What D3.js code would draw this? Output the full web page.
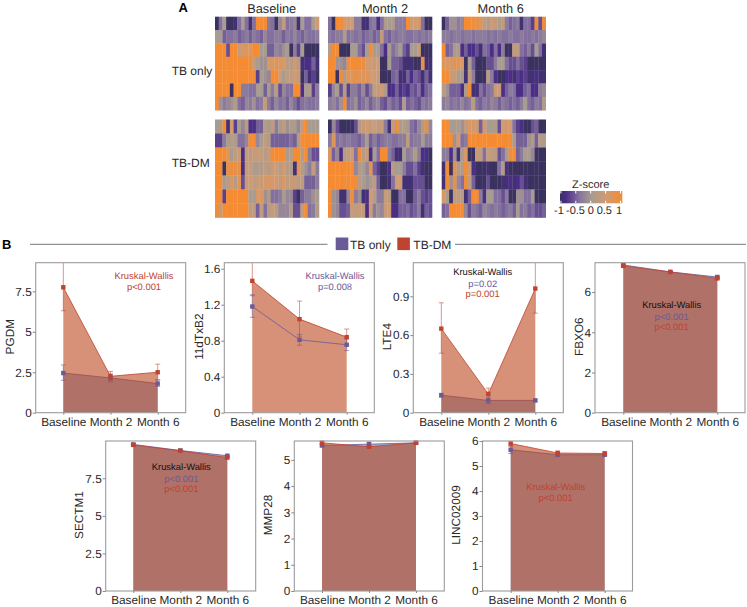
<!DOCTYPE html>
<html><head><meta charset="utf-8">
<script src="https://cdn.jsdelivr.net/npm/d3@7/dist/d3.min.js"></script>
<style>html,body{margin:0;padding:0;background:#fff}svg{display:block}text{font-family:"Liberation Sans",Arial,sans-serif;fill:#2a2a2a;text-rendering:geometricPrecision}</style>
</head><body><svg id="c" width="747" height="607"></svg>
<script>
const months = ["Baseline", "Month 2", "Month 6"];
const groups = ["TB only", "TB-DM"];

const heatTbBase = [
[-1,-.4,0,-1,-1,-.9,-.4,0,-.4,-.9,-.4,1,1,1,-.3,-.4,-1,-.2,.3,-.4,-.3,-.2,-.9,0,-.4,-.4,0,.5],
[0,0,-.5,-.4,-.4,-.3,-.5,-.4,-.3,-.5,-.3,-.4,-.5,-.2,-.4,-.4,-.3,-.3,-.5,-.3,-.4,-.2,-.4,-.5,-.3,-.4,-.4,-.3],
[1,1,1,-.6,1,1,.4,.6,.7,.6,1,1,0,0,-.5,-.5,-.2,-.3,-.1,0,-1,-.3,-.7,0,-1,-1,-1,-1],
[1,1,1,1,1,1,1,1,1,1,.4,0,-.1,-.1,.6,.6,.7,.6,.6,.2,.2,.5,.2,-.9,-.8,-.8,-.5,-.9],
[1,1,1,1,1,1,1,1,1,1,1,-.7,0,-.1,-.2,1,1,.5,0,.3,.3,.5,.4,-1,-.5,-.9,-.7,-1],
[1,1,1,1,-1,1,1,-.3,-.3,-.4,-.4,0,0,-.5,0,-.3,.2,-.6,-.2,-.4,-.4,1,1,-.8,0,.1,-.7,-.3],
[1,-.1,-.3,-.2,-.1,.1,-.4,-.5,-.2,-.3,-.1,-.4,-.3,.3,-.3,-.5,-.2,-.4,-.3,-.5,-.2,-.4,-.6,-.4,-.3,-.4,-.4,-.3]];
const heatTbM2 = [
[-.4,-1,1,1,.5,.5,.5,-.3,-.3,-.9,-.9,-.4,-.3,-.8,-.4,.1,0,.1,-.3,-.3,-.3,1,.5,.5,.6,-.4,-1,-1],
[-.3,-.4,-.3,-.3,.1,-.4,-.3,-.4,-.3,-.5,-.4,-.3,-.5,-.4,.3,-.4,-.5,-.3,-.4,-.3,-.3,-.4,-.4,-.3,-.4,-.3,-.4,-.3],
[.2,1,.9,-1,-1,-1,0,0,-.4,-.6,0,1,0,0,-.4,-.8,0,-.4,-.2,0,-.5,-.7,0,0,.4,-1,-1,-1],
[1,1,-.1,-.1,-.2,.9,1,1,.9,.9,.5,.5,.4,.5,-1,-1,0,-.5,-.5,-.6,-.9,-.9,-.9,-1,-1,.8,-.9,-.9],
[1,1,-1,.9,.1,.7,.7,.8,.7,.7,.7,.5,.5,.4,-1,-1,-1,-.5,-.4,-.9,-.9,-.5,-.8,-.5,-.6,-.9,-.5,-.9],
[-.7,-.2,0,-.6,.1,-.7,-.3,-.3,-.5,-.2,-.6,-.3,.4,.3,.5,.1,-.8,-.8,-.5,-.8,-.7,-.8,-.5,-.6,-.4,-.8,-.5,-.4],
[-.3,-.2,-.4,-.1,1,-.4,-.3,-.1,-.5,-.4,-.2,-.5,-.3,-.2,-.5,-.6,-.3,-.5,-.4,-.6,.1,-.5,-.4,-.5,-.6,-.3,-.4,-.3]];
const heatTbM6 = [
[-1,-.5,-.1,-.1,-.3,-.2,1,1,.9,.8,.7,.3,.1,.5,.3,.1,.3,-.3,-.5,-.4,-.3,-.9,-.4,-.4,-.7,1,-.6,.9],
[-.3,-.3,-.4,-.3,-.3,-.4,-.3,-.3,-.4,-.3,-.3,-.3,-.4,-.3,-.4,-.3,-.4,-.4,-.3,-.4,-.4,-.3,-.4,-.4,-.3,-.4,-.3,-.2],
[1,-.5,-.4,0,.1,-.8,-.5,-.8,-.8,-.6,-.9,-.4,-.5,-.8,-.4,-.8,-.3,-1,-1,.3,.3,-.4,-.5,-.3,-.6,0,-.4,-.9],
[.7,.6,.6,.7,.7,.6,-1,0,-.5,-1,-1,-1,-.6,-.6,-.3,0,0,-.4,-.6,-.6,-.4,-.6,-.7,-1,-1,-1,-1,-1],
[1,1,.4,.4,.1,0,-.9,.3,-.3,-1,-1,-1,.2,-.3,-.8,-1,-1,-.8,-.8,-.9,-.7,-.8,-.7,-.9,-.9,-.8,-.9,-.9],
[.2,-.1,-.5,-.5,-.5,-.8,.1,1,-.9,-.9,-.4,-.6,-.4,-.3,.4,.4,-.8,-.5,-.3,-.4,-.8,-.8,-.5,-.4,-.8,-.8,-.3,-.2],
[-.3,-.2,-.4,-.3,-.4,-.2,-.4,-.3,.2,-.4,-.5,-.3,-.4,-.2,-.3,-.5,-.3,-.4,-.5,-.4,-.5,-.3,0,-.4,-.5,-.3,-.4,.1]];
const heatDmBase = [
[0,0,1,-.9,.5,-.7,0,-.2,.2,-.8,-.8,-.5,-.5,.2,0,.3,-.3,0,.3,-.1,.1,0,-.2,.4,1,0,0,0],
[-.7,-.7,-.3,0,.2,.1,-.4,-.4,-.2,1,1,-.2,0,.3,.1,-.5,-.5,-.5,-.5,-.5,-.4,-.5,.1,1,1,1,1,1],
[1,1,1,.7,0,.3,.4,-.8,.4,.2,.4,.4,.3,.2,.4,1,1,1,1,0,.2,1,1,.2,1,-.3,-.6,-.6],
[1,1,-1,.8,.9,.8,.8,-.8,.4,.4,.1,.1,.1,.3,.2,.4,.5,.2,.5,.2,.1,-.9,.7,.2,-.1,-.3,.3,-.3],
[1,1,0,.2,.6,.2,.7,-.6,.4,.5,.3,.4,.4,.6,.6,.5,.6,.3,.6,.3,.4,.4,.2,.3,-.5,-.5,-.5,-.3],
[1,1,-.7,1,1,1,1,1,1,0,0,.6,.6,-.1,.1,-.4,-.4,-.3,0,-.2,-.2,-.7,-1,-.5,-.3,-.3,-.1,0],
[1,.3,1,1,1,1,1,1,1,.3,.3,-.5,.3,-.4,.2,.4,.2,-.2,-.2,-.2,.1,-.6,-.6,.3,1,-.4,-.3,.1]];
const heatDmM2 = [
[-1,-.2,-.6,-1,-1,-1,-1,-.6,.1,.4,.5,.3,.5,.2,.4,-.3,-.9,.3,1,0,.2,0,-.4,-.5,-.2,.1,.9,-.2],
[-.3,.7,-.4,-.3,-.4,-.3,-.4,-.4,-.5,-.3,0,-.5,-.3,-.5,-.4,-.3,-.3,-.4,-.4,-.3,-.3,.3,-.4,-.3,-.3,0,-.3,-.3],
[.6,-.5,-.2,-.8,.2,.3,.4,-.4,.9,.2,.4,-.8,0,-.4,1,1,-.3,-.5,-.9,-.9,0,-.3,-.2,.1,-.3,-.8,-.8,-1],
[1,1,1,1,1,1,1,-.2,.1,0,-.2,.7,-.5,-.7,-1,-1,-.8,.2,0,0,-.3,-.6,-.6,-.4,-.7,-.9,-1,-1],
[1,1,1,1,.9,1,1,.9,.2,0,-.1,0,.3,-.5,-1,-1,-.9,-.4,.5,.5,-.9,-.9,-.9,-.6,-.6,-.6,-1,-1],
[1,-.1,-.2,-.9,-.9,-.2,1,-.3,-.1,-.9,-.8,.5,.2,-.3,-.3,.4,.2,-1,-1,-.4,-.4,-1,-1,-.5,-.3,-.6,-.7,-.6],
[1,-.1,-.2,-.6,-.6,-.5,.4,.3,.4,.3,-.8,.5,-.3,-.1,-.2,.4,.5,-.8,-.8,-.5,-.5,-.4,-.6,-.5,-.3,-.9,-.5,-.6]];
const heatDmM6 = [
[1,1,0,0,.1,-.1,.3,.6,.6,.4,-.5,.6,0,0,.1,-.6,.5,.6,.5,-.4,-.7,-.8,-1,-1,-.6,-.5,-1,-1],
[1,1,1,-.1,.6,-.4,-.3,1,.9,1,1,1,1,1,1,1,1,1,1,0,-.5,-.5,-.5,-.1,.1,-.5,.2,.1],
[-.3,-.3,-.8,-.1,-.9,.1,.6,-1,-1,.4,.3,-.4,.4,.3,.2,-.6,-.4,0,.9,1,-.5,-.3,0,0,-.2,-1,-1,-1],
[-.9,.9,-1,.8,.1,.1,.9,.4,-.8,-1,-1,-1,-.9,-1,-1,-.4,.1,-.8,-1,-1,-1,-1,-1,-1,-1,-1,-1,-1],
[-.9,.9,-.1,.8,-.2,-.4,.9,.3,-.5,-1,-1,-1,-.6,-1,-1,-1,-.9,-.9,-.8,-.9,-.8,-.6,-.9,-1,-1,-1,-1,-1],
[.6,0,-1,.3,.3,.2,-.9,-.5,1,.9,-.3,-.8,0,0,-.4,-.4,-.6,-.3,-1,-1,-.1,-.1,-.4,-.4,0,-1,-1,-1],
[-.5,-.4,1,1,1,1,-.2,-.6,-.3,-.4,-.5,-.2,-.3,-.4,-.3,-.4,-.5,-.4,-.3,-.5,0,-.4,-.3,-.5,-.4,-.6,-.6,-.5]];

const metabolites = ["PGDM","11dTxB2","LTE4","FBXO6","SECTM1","MMP28","LINC02009"];
const tbOnly = [[2.45,2.15,1.8],[1.18,.81,.755],[.135,.095,.095],[7.35,7.0,6.75],[9.75,9.35,9.0],[5.55,5.6,5.65],[5.65,5.45,5.45]];
const tbDm = [[7.75,2.25,2.5],[1.465,1.04,.84],[.65,.145,.96],[7.3,7.0,6.68],[9.72,9.33,8.88],[5.65,5.5,5.65],[5.9,5.52,5.5]];
const tbLow = [[2.0,1.9,1.62],[1.06,.75,.69],[.12,.07,.085],[7.3,6.97,6.7],[9.7,9.3,8.95],[5.5,5.52,5.62],[5.5,5.4,5.4]];
const tbHigh = [[2.95,2.4,2.0],[1.31,.87,.82],[.15,.12,.105],[7.4,7.03,6.8],[9.8,9.4,9.05],[5.6,5.68,5.68],[5.8,5.5,5.5]];
const dmLow = [[6.3,2.0,2.05],[1.3,.85,.75],[.46,.1,.77],[7.25,6.97,6.62],[9.65,9.28,8.8],[5.6,5.45,5.6],[5.8,5.45,5.42]];
const dmHigh = [[9.4,2.55,3.0],[1.7,1.24,.93],[.85,.19,1.2],[7.35,7.03,6.74],[9.8,9.38,8.95],[5.7,5.55,5.7],[6.0,5.6,5.58]];
const tbFilled = [true,false,true,true,true,true,true];
const yMax = [9.27,1.667,1.16,7.46,9.98,5.72,6];
const yTicks = [[0,2.5,5,7.5],[0,.4,.8,1.2,1.6],[0,.3,.6,.9],[0,2,4,6],[0,2.5,5,7.5],[0,1,2,3,4,5],[0,1,2,3,4,5,6]];
const notes = [
 [["Kruskal-Wallis","dm"],["p<0.001","dm"]],
 [["Kruskal-Wallis","tb"],["p=0.008","tb"]],
 [["Kruskal-Wallis","k"],["p=0.02","tb"],["p=0.001","dm"]],
 [["Kruskal-Wallis","k"],["p<0.001","tb"],["p<0.001","dm"]],
 [["Kruskal-Wallis","k"],["p<0.001","tb"],["p<0.001","dm"]],
 [],
 [["Kruskal-Wallis","dm"],["p<0.001","dm"]]];
const zStops = [-1,-.8,-.4,0,.5,1];
const zColors = ["#3a3060","#4b2f85","#83709e","#a89b90","#d09b72","#f58b30"];
const zTicks = [-1,-.5,0,.5,1];

const TB = "#6a5a98", DM = "#c0432f", TBFILL = "#526eb6", DMFILL = "#bb481e";
const svg = d3.select("#c");
const zColor = d3.scaleLinear().domain(zStops).range(zColors);
const defs = svg.append("defs");
defs.append("filter").attr("id", "soft").attr("x", "-1%").attr("y", "-1%").attr("width", "102%").attr("height", "102%")
  .append("feGaussianBlur").attr("stdDeviation", .6);

/* ---------- Panel A heatmaps ---------- */
function heat(matrix, x0, y0, w, h) {
  const xb = d3.scaleBand().domain(d3.range(matrix[0].length)).range([x0, x0 + w]);
  const yb = d3.scaleBand().domain(d3.range(matrix.length)).range([y0, y0 + h]);
  const g = svg.append("g").attr("filter", "url(#soft)");
  matrix.forEach((row, r) => {
    g.selectAll(null).data(row).join("rect")
      .attr("x", (d, i) => xb(i)).attr("y", yb(r))
      .attr("width", xb.bandwidth() + .3).attr("height", yb.bandwidth() + .3)
      .attr("fill", d => zColor(d));
  });
}
const heatX = [215, 328, 441.7], heatW = 104, titleX = [271.7, 385, 500.7];
[heatTbBase, heatTbM2, heatTbM6].forEach((m, i) => heat(m, heatX[i], 16.7, heatW, 93.5));
[heatDmBase, heatDmM2, heatDmM6].forEach((m, i) => heat(m, heatX[i], 119.5, heatW, 98));
months.forEach((m, i) => svg.append("text").attr("x", titleX[i]).attr("y", 12.5)
  .attr("text-anchor", "middle").attr("font-size", 12.8).text(m));
svg.append("text").attr("x", 171.7).attr("y", 74.5).attr("font-size", 12).text(groups[0]);
svg.append("text").attr("x", 171.7).attr("y", 167).attr("font-size", 12).text(groups[1]);
svg.append("text").attr("x", 178.5).attr("y", 12).attr("font-size", 13).attr("font-weight", "bold").style("fill", "#000").text("A");
svg.append("text").attr("x", 2).attr("y", 249).attr("font-size", 13).attr("font-weight", "bold").style("fill", "#000").text("B");

/* colour bar */
const zx = d3.scaleLinear().domain([-1.03, 1.06]).range([560, 622.3]);
const grad = defs.append("linearGradient").attr("id", "zg");
zStops.forEach((s, i) => grad.append("stop").attr("offset", (s + 1) / 2).attr("stop-color", zColors[i]));
svg.append("rect").attr("x", 560).attr("y", 191).attr("width", 62.3).attr("height", 12.3).attr("fill", "url(#zg)");
zTicks.forEach(t => {
  svg.append("line").attr("x1", zx(t)).attr("x2", zx(t)).attr("y1", 191).attr("y2", 193.5).attr("stroke", "#fff");
  svg.append("line").attr("x1", zx(t)).attr("x2", zx(t)).attr("y1", 200.8).attr("y2", 203.3).attr("stroke", "#fff");
});
svg.append("text").attr("x", 590.7).attr("y", 188).attr("text-anchor", "middle").attr("font-size", 11).text("Z-score");
const zLabelX = [559, 575.5, 590.7, 604.3, 619];
zTicks.forEach((t, i) => svg.append("text").attr("x", zLabelX[i]).attr("y", 214).attr("text-anchor", "middle").attr("font-size", 11).text(t));

/* ---------- Legend ---------- */
svg.append("line").attr("x1", 30).attr("x2", 327.5).attr("y1", 244.3).attr("y2", 244.3).attr("stroke", "#777");
svg.append("line").attr("x1", 455).attr("x2", 746).attr("y1", 244.3).attr("y2", 244.3).attr("stroke", "#777");
svg.append("rect").attr("x", 335.7).attr("y", 237.5).attr("width", 12.6).attr("height", 12.6).attr("fill", TB);
svg.append("text").attr("x", 350).attr("y", 248.5).attr("font-size", 12).text(groups[0]);
svg.append("rect").attr("x", 397.3).attr("y", 237.5).attr("width", 12.6).attr("height", 12.6).attr("fill", DM);
svg.append("text").attr("x", 413.3).attr("y", 248.5).attr("font-size", 12).text(groups[1]);

/* ---------- Panel B small multiples ---------- */
const boxes = [
 {l:35.7,t:262.7,cx:[63.3,110.7,157.7],lab:9.5,nx:144,ny:[278.5,290]},
 {l:224.3,t:262.7,cx:[252.3,299.3,346.7],lab:199,nx:335,ny:[278.5,290]},
 {l:413.3,t:262.7,cx:[441.3,488,535.3],lab:387,nx:482.7,ny:[275,286.5,297]},
 {l:595,t:262.7,cx:[623.3,670,717.3],lab:579,nx:671.7,ny:[308,319.5,330]},
 {l:105.7,t:441,cx:[133.3,180.3,227.3],lab:79,nx:181.3,ny:[470,481.5,492]},
 {l:294.3,t:441,cx:[322,369,416],lab:268,nx:0,ny:[]},
 {l:482.5,t:441,cx:[510.7,557.7,604.7],lab:456,nx:555.7,ny:[490,501]}];
const W = 150, H = 150;

metabolites.forEach((name, k) => {
  const b = boxes[k];
  const x = d3.scalePoint().domain(months).range([b.cx[0], b.cx[2]]);
  const y = d3.scaleLinear().domain([0, yMax[k]]).range([b.t + H, b.t]);
  const clipId = "clip" + k;
  defs.append("clipPath").attr("id", clipId).append("rect").attr("x", b.l).attr("y", b.t).attr("width", W).attr("height", H);

  const plot = svg.append("g").attr("clip-path", `url(#${clipId})`);
  const area = d3.area().x((d, i) => x(months[i])).y0(y(0)).y1(d => y(d));
  const line = d3.line().x((d, i) => x(months[i])).y(d => y(d));
  const drawLine = (vals, lo, hi, col) => {
    plot.append("path").attr("d", line(vals)).attr("fill", "none").attr("stroke", col).attr("stroke-width", 1).attr("stroke-opacity", .8);
    vals.forEach((v, i) => {
      const cx = x(months[i]);
      const e = plot.append("g").attr("stroke", col).attr("stroke-opacity", .55).attr("stroke-width", 1);
      e.append("line").attr("x1", cx).attr("x2", cx).attr("y1", y(lo[i])).attr("y2", y(hi[i]));
      e.append("line").attr("x1", cx - 2.5).attr("x2", cx + 2.5).attr("y1", y(lo[i])).attr("y2", y(lo[i]));
      e.append("line").attr("x1", cx - 2.5).attr("x2", cx + 2.5).attr("y1", y(hi[i])).attr("y2", y(hi[i]));
    });
  };
  if (tbFilled[k]) {
    plot.append("path").attr("d", area(tbOnly[k])).attr("fill", TBFILL).attr("fill-opacity", .55);
    drawLine(tbOnly[k], tbLow[k], tbHigh[k], TB);
  }
  plot.append("path").attr("d", area(tbDm[k])).attr("fill", DMFILL).attr("fill-opacity", .6);
  drawLine(tbDm[k], dmLow[k], dmHigh[k], DM);
  if (!tbFilled[k]) drawLine(tbOnly[k], tbLow[k], tbHigh[k], TB);

  [[tbOnly[k], TB], [tbDm[k], DM]].forEach(([vals, col]) => {
    svg.append("g").selectAll("rect").data(vals).join("rect")
      .attr("x", (d, i) => x(months[i]) - 2.2).attr("y", d => y(d) - 2.2)
      .attr("width", 4.4).attr("height", 4.4).attr("fill", col);
  });

  svg.append("rect").attr("x", b.l).attr("y", b.t).attr("width", W).attr("height", H)
    .attr("fill", "none").attr("stroke", "#9c9c9c").attr("stroke-width", 1.1);

  const ax = svg.append("g").attr("transform", `translate(0,${b.t + H})`)
    .call(d3.axisBottom(x).tickSize(2).tickSizeOuter(0).tickPadding(3));
  ax.select(".domain").remove();
  ax.selectAll(".tick line").attr("stroke", "#888");
  ax.selectAll("text").attr("font-size", 11.8).attr("font-family", null);
  const ay = svg.append("g").attr("transform", `translate(${b.l},0)`)
    .call(d3.axisLeft(y).tickValues(yTicks[k]).tickFormat(d => String(d)).tickSize(3).tickSizeOuter(0).tickPadding(1));
  ay.select(".domain").remove();
  ay.selectAll(".tick line").attr("stroke", "#888");
  ay.selectAll("text").attr("font-size", 11.8).attr("font-family", null);

  svg.append("text").attr("transform", `translate(${b.lab + 4},${b.t + H / 2 - 1}) rotate(-90)`)
    .attr("text-anchor", "middle").attr("font-size", 11.8).text(name);

  notes[k].forEach((n, i) => {
    svg.append("text").attr("x", b.nx).attr("y", b.ny[i]).attr("text-anchor", "middle").attr("font-size", 9.4)
      .style("fill", n[1] === "dm" ? DM : n[1] === "tb" ? TB : "#111").text(n[0]);
  });
});
</script></body></html>
